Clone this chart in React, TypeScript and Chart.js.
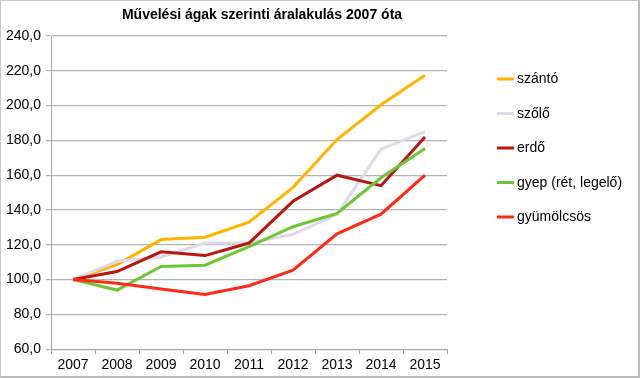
import React, { useEffect, useRef } from "react";
import { Chart, registerables } from "chart.js";

Chart.register(...registerables);

const TITLE = "Művelési ágak szerinti áralakulás 2007 óta";
const years = ["2007", "2008", "2009", "2010", "2011", "2012", "2013", "2014", "2015"];
const szanto = [100, 108.6, 123, 124.4, 133, 153, 180.5, 200.5, 217.5];
const szolo = [100, 110.5, 113, 121, 121, 126, 137.5, 175, 185];
const erdo = [100, 104.6, 116, 113.8, 121, 145, 160, 154, 182];
const gyep = [100, 94, 107.5, 108.3, 119, 130.4, 138, 158.5, 175.3];
const gyumolcsos = [100, 97.9, 94.6, 91.5, 96.5, 105.4, 126.3, 137.6, 160];
const seriesNames = ["szántó", "szőlő", "erdő", "gyep (rét, legelő)", "gyümölcsös"];
const seriesColors = ["#FFB400", "#DDD8EA", "#B8160E", "#6CC832", "#FF2A14"];
const yMin = 60;
const yMax = 240;
const yStep = 20;

const FONT = "'Liberation Sans', Arial, sans-serif";

export default function App() {
  const ref = useRef<HTMLCanvasElement | null>(null);

  useEffect(() => {
    if (!ref.current) return;
    const values = [szanto, szolo, erdo, gyep, gyumolcsos];
    const titleAndLegend = {
      id: "titleAndLegend",
      afterDraw(chart: any) {
        const ctx = chart.ctx;
        const area = chart.chartArea;
        ctx.save();
        ctx.font = "bold 14px " + FONT;
        ctx.fillStyle = "#000";
        ctx.textAlign = "center";
        ctx.textBaseline = "middle";
        ctx.fillText(TITLE, 261, 14);
        // legend
        ctx.font = "14px " + FONT;
        ctx.textAlign = "left";
        const x0 = area.right + 50;
        const y0 = area.top + 43;
        chart.data.datasets.forEach((ds: any, i: number) => {
          const y = y0 + i * 34.5;
          ctx.fillStyle = ds.borderColor;
          ctx.fillRect(x0, y - 1.5, 17, 3);
          ctx.fillStyle = "#000";
          ctx.fillText(ds.label, x0 + 20, y + 0.5);
        });
        ctx.restore();
      },
    };
    const chart = new Chart(ref.current, {
      type: "line",
      data: {
        labels: years,
        datasets: values.map((v, i) => ({
          label: seriesNames[i],
          data: v,
          borderColor: seriesColors[i],
          backgroundColor: seriesColors[i],
          borderWidth: 3,
          pointRadius: 0,
          tension: 0,
          order: values.length - i,
        })),
      },
      options: {
        animation: false,
        responsive: true,
        maintainAspectRatio: false,
        layout: { padding: { top: 35, left: 0, right: 191, bottom: -1 } },
        plugins: {
          title: { display: false },
          tooltip: { enabled: false },
          legend: { display: false },
        },
        scales: {
          x: {
            type: "category",
            offset: true,
            grid: {
              display: true,
              drawOnChartArea: false,
              drawTicks: true,
              tickLength: 5,
              offset: true,
              color: "#a8a8a8",
            },
            border: { display: true, color: "#a8a8a8", width: 1 },
            ticks: { color: "#000", padding: 3, font: { size: 14, family: FONT }, maxRotation: 0 },
          },
          y: {
            type: "linear",
            position: "left",
            min: yMin,
            max: yMax,
            ticks: {
              stepSize: yStep,
              color: "#000",
              padding: 5,
              font: { size: 14, family: FONT },
              callback: (v: any) => Number(v).toFixed(1).replace(".", ","),
            },
            grid: { color: "#b4b4b4", lineWidth: 1.2, tickLength: 5, drawTicks: true },
            border: { display: true, color: "#a8a8a8", width: 1 },
          },
        },
      },
      plugins: [titleAndLegend],
    });
    return () => chart.destroy();
  }, []);

  return (
    <div
      style={{
        position: "absolute",
        left: 0,
        top: 0,
        width: 640,
        height: 378,
        boxSizing: "border-box",
        borderTop: "1px solid #c8c8c8",
        borderLeft: "1px solid #c8c8c8",
        borderRight: "2px solid #bcbcbc",
        borderBottom: "2px solid #bcbcbc",
        background: "#fff",
      }}
    >
      <div style={{ position: "relative", width: 637, height: 375 }}>
        <canvas ref={ref} />
      </div>
    </div>
  );
}
